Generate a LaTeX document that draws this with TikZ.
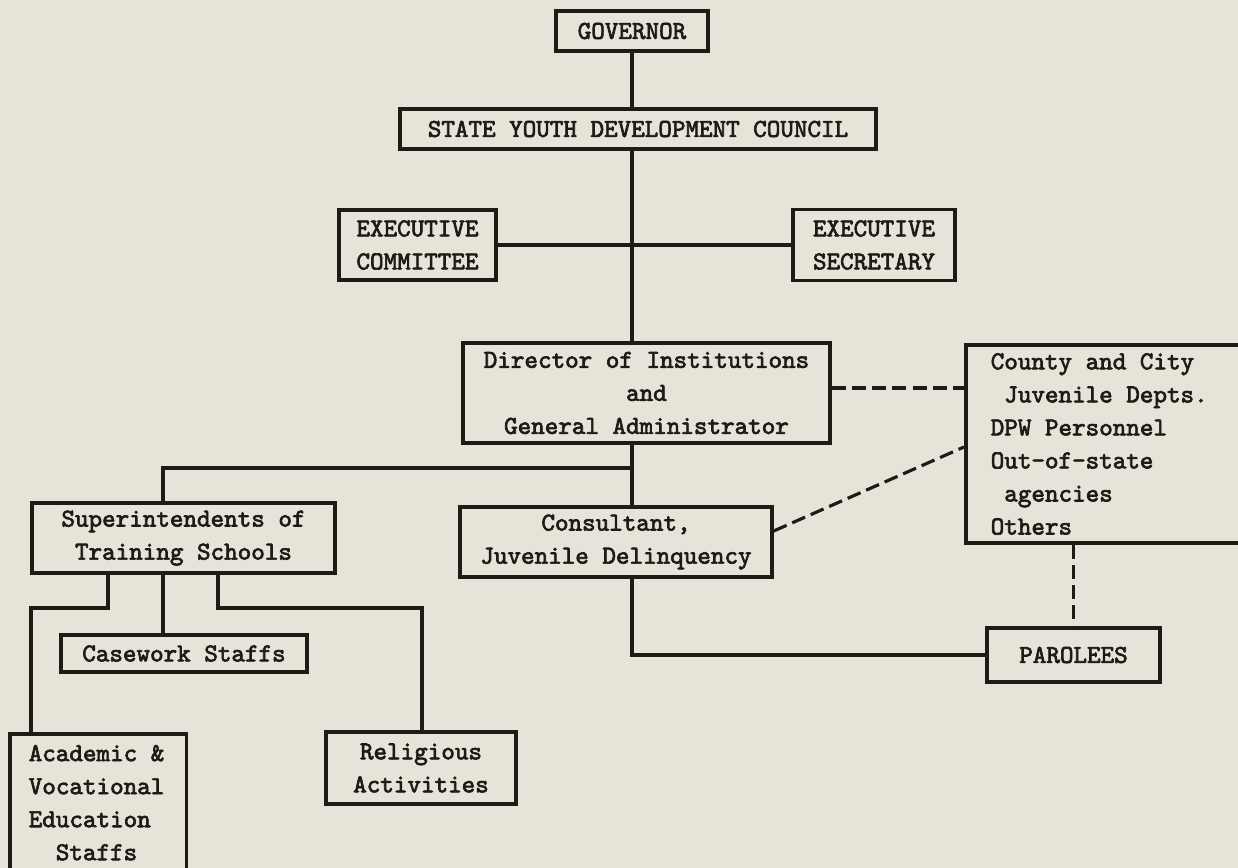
\documentclass[tikz,border=0pt]{standalone}
\usepackage{fontspec}
\setmonofont[FakeBold=2.6]{lmmono10-regular.otf}
\definecolor{paper}{RGB}{230,227,217}
\definecolor{ink}{RGB}{30,26,22}
\tikzset{
  orgbox/.style={draw=ink, text=ink, line width=2pt, fill=paper, inner sep=0pt, align=center,
    font=\ttfamily\fontsize{14.7}{18.8}\selectfont},
  orgline/.style={draw=ink, line width=1.8pt},
  orgdash/.style={orgline, dash pattern=on 8pt off 3.5pt},
}
\begin{document}
\begin{tikzpicture}[x=0.02cm, y=-0.02cm]
    \fill[paper] (0,0) rectangle (1238,868);
    \useasboundingbox (0,0) rectangle (1238,868);
    \clip (0,0) rectangle (1238,868);

    \node[orgbox, minimum width=3.04cm, minimum height=0.8cm] (gov) at (632,31) {GOVERNOR};
    \node[orgbox, minimum width=9.52cm, minimum height=0.8cm] (council) at (638,129) {STATE YOUTH DEVELOPMENT COUNCIL};
    \node[orgbox, minimum width=3.14cm, minimum height=1.4cm] (execcom) at (417.5,245) {EXECUTIVE\\COMMITTEE};
    \node[orgbox, minimum width=3.24cm, minimum height=1.42cm] (execsec) at (874,245) {EXECUTIVE\\SECRETARY};
    \node[orgbox, minimum width=7.34cm, minimum height=2cm] (director) at (646.5,393)
        {Director of Institutions\\and\\General Administrator};
    \node[orgbox, anchor=west, align=flush left, text width=6cm, inner xsep=0.5cm, minimum height=3.96cm] (county) at (964,444)
        {County and City\\\hphantom{x}Juvenile Depts.\\DPW Personnel\\Out-of-state\\\hphantom{x}agencies\\Others};
    \node[orgbox, minimum width=6.06cm, minimum height=1.4cm] (supt) at (183.5,538) {Superintendents of\\Training Schools};
    \node[orgbox, minimum width=6.24cm, minimum height=1.4cm] (consult) at (616,542) {Consultant,\\Juvenile Delinquency};
    \node[orgbox, minimum width=4.92cm, minimum height=0.74cm] (casework) at (184,653.5) {Casework Staffs};
    \node[orgbox, anchor=north west, align=flush left, text width=2.78cm, inner xsep=0.38cm, minimum height=2.76cm] (academic) at (8,732)
        {Academic \&\\Vocational\\Education\\\hphantom{xx}Staffs};
    \node[orgbox, minimum width=3.8cm, minimum height=1.44cm] (religious) at (421,768) {Religious\\Activities};
    \node[orgbox, minimum width=3.46cm, minimum height=1.08cm] (parolees) at (1073.5,655) {PAROLEES};

    % bends of the tree
    \coordinate (fork) at (633,468);
    \coordinate (bendl) at (31,608);
    \coordinate (bendr) at (422,608);
    \coordinate (supttop) at ([xshift=-0.41cm]supt.north);
    \coordinate (suptl) at ([xshift=-1.51cm]supt.south);
    \coordinate (suptm) at ([xshift=-0.41cm]supt.south);
    \coordinate (suptr) at ([xshift=0.69cm]supt.south);

    \draw[orgline] (gov.south) -- (gov.south |- council.north);
    \draw[orgline] (council.south -| gov.south) -- (director.north -| gov.south);
    \draw[orgline] (execcom.east) -- (execsec.west);
    \draw[orgline] (director.south -| gov.south) -- (consult.north -| gov.south);
    \draw[orgline] (fork) -| (supttop);
    \draw[orgline] (suptl) |- (bendl) -- (bendl |- academic.north);
    \draw[orgline] (suptm) -- (suptm |- casework.north);
    \draw[orgline] (suptr) |- (bendr) -- (bendr |- religious.north);
    \draw[orgline] (consult.south -| gov.south) |- (parolees.west);

    \draw[orgdash] ([yshift=0.1cm]director.east) -- ([yshift=0.1cm]director.east -| county.west);
    \draw[orgdash] ([yshift=0.22cm]consult.east) -- ([yshift=-0.06cm]county.west);
    \draw[orgdash] (parolees.north |- county.south) -- (parolees.north);
\end{tikzpicture}
\end{document}
